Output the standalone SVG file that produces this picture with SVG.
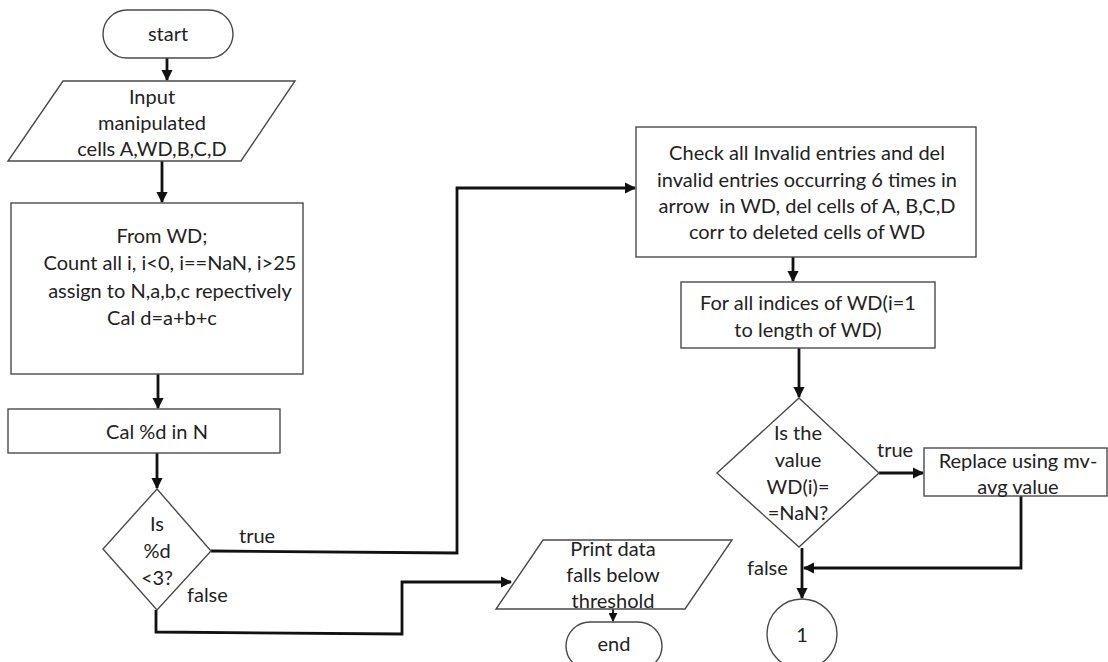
<svg xmlns="http://www.w3.org/2000/svg" width="1108" height="662" viewBox="0 0 1108 662">
  <style>
    .shape { fill: #ffffff; stroke: #4a4a4a; stroke-width: 1.4; }
    .wire { fill: none; stroke: #111111; stroke-width: 2.8; stroke-linejoin: miter; }
    .wire-thin { fill: none; stroke: #111111; stroke-width: 1.8; }
    text { font-family: Lato, "Open Sans", "Liberation Sans", sans-serif; font-size: 20px; fill: #222222; text-anchor: middle; }
    .lbl { text-anchor: start; }
  </style>
  <defs>
    <marker id="arrow" viewBox="0 0 10 10" refX="9" refY="5" markerWidth="4" markerHeight="4" orient="auto" markerUnits="strokeWidth">
      <path d="M0,0 L10,5 L0,10 Z" fill="#111111"/>
    </marker>
    <marker id="arrow-s" viewBox="0 0 10 10" refX="9" refY="5" markerWidth="5" markerHeight="5" orient="auto" markerUnits="strokeWidth">
      <path d="M0,0 L10,5 L0,10 Z" fill="#111111"/>
    </marker>
  </defs>

  <rect width="1108" height="662" fill="#ffffff"/>

  <!-- connectors -->
  <g id="connectors">
    <path class="wire" d="M167,58 V80" marker-end="url(#arrow)"/>
    <path class="wire" d="M162,161 V202" marker-end="url(#arrow)"/>
    <path class="wire" d="M158,374 V408" marker-end="url(#arrow)"/>
    <path class="wire" d="M157,453 V488" marker-end="url(#arrow)"/>
    <!-- true branch of first decision -->
    <path class="wire" d="M211,551 L457,553 V188 H635" marker-end="url(#arrow)"/>
    <!-- false branch of first decision -->
    <path class="wire" d="M156,610 V632 L402,634 V582 H511" marker-end="url(#arrow)"/>
    <path class="wire-thin" d="M613,609 V621" marker-end="url(#arrow-s)"/>
    <path class="wire" d="M793,257 V281" marker-end="url(#arrow)"/>
    <path class="wire" d="M799,348 V397" marker-end="url(#arrow)"/>
    <path class="wire" d="M879,473 H923" marker-end="url(#arrow)"/>
    <path class="wire" d="M1021,496 V568 H804" marker-end="url(#arrow)"/>
    <path class="wire" d="M802,548 V598" marker-end="url(#arrow)"/>
  </g>

  <!-- connector labels -->
  <g id="edge-labels">
    <text class="lbl" x="239" y="543">true</text>
    <text class="lbl" x="187" y="602">false</text>
    <text class="lbl" x="877" y="457">true</text>
    <text class="lbl" x="747" y="575">false</text>
  </g>

  <g id="start">
    <rect class="shape" x="103" y="10" width="130" height="48" rx="24"/>
    <text x="168" y="41">start</text>
  </g>

  <g id="input">
    <polygon class="shape" points="63,81 295,81 241,161 8,161"/>
    <text x="152" y="104">Input</text>
    <text x="152" y="130">manipulated</text>
    <text x="152" y="156">cells A,WD,B,C,D</text>
  </g>

  <g id="count">
    <rect class="shape" x="11" y="203" width="292" height="171"/>
    <text x="162" y="243">From WD;</text>
    <text x="170" y="270">Count all i, i&lt;0, i==NaN, i&gt;25</text>
    <text x="170" y="298">assign to N,a,b,c repectively</text>
    <text x="162" y="325">Cal d=a+b+c</text>
  </g>

  <g id="percent">
    <rect class="shape" x="8" y="409" width="272" height="44"/>
    <text x="157" y="439">Cal %d in N</text>
  </g>

  <g id="decision-threshold">
    <polygon class="shape" points="157,489 211,551 157,610 103,549"/>
    <text x="157" y="531">Is</text>
    <text x="157" y="558">%d</text>
    <text x="157" y="585">&lt;3?</text>
  </g>

  <g id="print">
    <polygon class="shape" points="543,540 732,540 685,609 496,609"/>
    <text x="613" y="556">Print data</text>
    <text x="613" y="582">falls below</text>
    <text x="613" y="608">threshold</text>
  </g>

  <g id="end">
    <rect class="shape" x="566" y="622" width="96" height="48" rx="24"/>
    <text x="614" y="651">end</text>
  </g>

  <g id="check">
    <rect class="shape" x="636" y="127" width="340" height="130"/>
    <text x="807" y="160">Check all Invalid entries and del</text>
    <text x="807" y="187">invalid entries occurring 6 times in</text>
    <text x="807" y="213">arrow &#160;in WD, del cells of A, B,C,D</text>
    <text x="807" y="239">corr to deleted cells of WD</text>
  </g>

  <g id="loop">
    <rect class="shape" x="681" y="282" width="254" height="66"/>
    <text x="808" y="310">For all indices of WD(i=1</text>
    <text x="808" y="337">to length of WD)</text>
  </g>

  <g id="decision-nan">
    <polygon class="shape" points="799,398 879,473 799,547 717,473"/>
    <text x="798" y="440">Is the</text>
    <text x="798" y="467">value</text>
    <text x="798" y="494">WD(i)=</text>
    <text x="798" y="520">=NaN?</text>
  </g>

  <g id="replace">
    <rect class="shape" x="924" y="448" width="183" height="48"/>
    <text x="1018" y="468">Replace using mv-</text>
    <text x="1018" y="494">avg value</text>
  </g>

  <g id="connector-1">
    <circle class="shape" cx="802" cy="634" r="35"/>
    <text x="802" y="642">1</text>
  </g>
</svg>
